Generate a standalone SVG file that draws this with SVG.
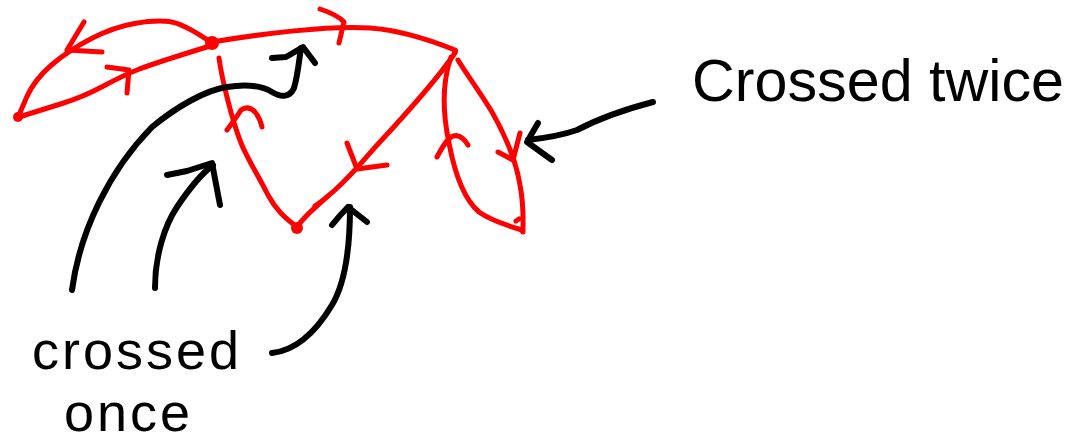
<svg xmlns="http://www.w3.org/2000/svg" width="1077" height="443" viewBox="0 0 1077 443">
<style>
.r{fill:none;stroke:#ff0000;stroke-width:5;stroke-linecap:round;stroke-linejoin:round}
.k{fill:none;stroke:#000;stroke-width:6;stroke-linecap:round;stroke-linejoin:round}
.dot{fill:#ff0000}
.lbl{font-family:"Liberation Sans","DejaVu Sans",sans-serif;font-size:60px;fill:#000}
.sm{font-size:54px;letter-spacing:3px}
</style>
<rect width="1077" height="443" fill="#fff"/>
<g id="connectors">
<path class="r" d="M212,43 Q183,23 169,21.5 Q155,20 134.5,23.5 Q114,27 91.5,38.5 Q69,50 51.5,65 Q34,80 26.5,97.5 L19,115"/>
<path class="r" d="M84,22 L67,50 L102,52"/>
<path class="r" d="M19,117 Q41,110 62,103.5 Q83,97 103.5,86 Q124,75 139.5,69 Q155,63 210,46"/>
<path class="r" d="M107,67 L129,70 L127,93"/>
<path class="r" d="M212,42 C260,34 330,25 370,28 C400,30 430,40 455,50"/>
<path class="r" d="M320,9 Q338,15 344,22 L339,43"/>
<path class="r" d="M455,53 C440,75 405,115 379,143 C365,158 355,172 335,190 C320,203 305,215 297,227"/>
<path class="r" d="M347,143 L357,169 L387,165"/>
<path class="r" d="M315,206 L322,201"/>
<path class="r" d="M219,58 C222,80 232,120 241,143 C248,160 258,175 268,195 C276,210 285,218 297,227"/>
<path class="r" d="M227,130 Q236,118 241,110 Q248,105 255,112 Q260,118 262,127"/>
<path class="r" d="M451,57 C443,80 442,110 449,143 C455,175 465,200 479,212 C490,220 505,225 522,230"/>
<path class="r" d="M458,60 C465,72 480,92 492,112 C505,135 516,160 520,185 C524,205 523,220 523,232"/>
<path class="r" d="M437,157 Q446,140 451,137 Q460,132 468,145"/>
<path class="r" d="M498,152 L513,160 L520,133"/>
<path class="r" d="M516,221 L519,219"/>
<path class="k" d="M72,290 C80,230 110,170 152,127 C175,108 205,90 227,87 C245,84 260,85 272,92 C282,98 290,97 294,88 C298,75 299,60 301,48"/>
<path class="k" d="M272,58 L286,57 L303,47 L315,63"/>
<path class="k" d="M155,288 C155,255 165,225 177,207 C187,192 200,175 213,165"/>
<path class="k" d="M167,175 L187,171 L212,163 L220,205"/>
<path class="k" d="M272,353 C300,350 320,325 332,305 C347,280 350,240 350,207"/>
<path class="k" d="M332,225 Q340,215 348,207 L367,222"/>
<path class="k" d="M653,102 C630,108 600,118 577,130 C560,136 545,138 528,140"/>
<path class="k" d="M538,123 L527,142 L552,160"/>
</g>
<g id="node-a"><circle class="dot" cx="212" cy="43" r="7"/></g>
<g id="node-b"><circle class="dot" cx="18" cy="117" r="5"/></g>
<g id="node-c"><circle class="dot" cx="297" cy="228" r="6"/></g>
<g id="node-d"><circle class="dot" cx="455" cy="51" r="3"/></g>
<g id="node-e"><circle class="dot" cx="522" cy="230" r="3"/></g>
<g id="label-once"><text class="lbl sm" x="32" y="369">crossed</text><text class="lbl sm" x="64" y="431">once</text></g>
<g id="label-twice"><text class="lbl" x="692" y="101" textLength="372" lengthAdjust="spacingAndGlyphs">Crossed twice</text></g>
</svg>
